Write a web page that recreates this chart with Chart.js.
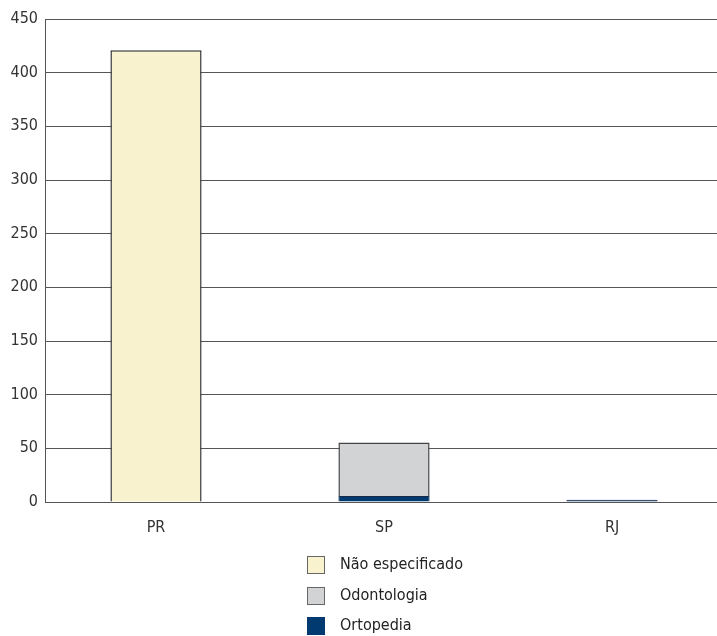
<!DOCTYPE html>
<html>
<head>
<meta charset="utf-8">
<script src="https://cdn.jsdelivr.net/npm/chart.js@4"></script>
<style>
  html, body { margin: 0; padding: 0; background: #fff; overflow: hidden; }
  #wrap { position: relative; width: 717px; height: 636px; overflow: hidden; }
  #cv { position: absolute; left: 0; top: 0; }
  #legend { position: absolute; left: 307px; top: 556px; font-family: "DejaVu Sans Condensed", "DejaVu Sans", sans-serif; font-size: 16px; color: #222; }
  .item { position: relative; height: 30.5px; }
  .box { position: absolute; left: 0; top: 0; width: 16px; height: 16px; border: 1px solid #666; }
  .lbl { position: absolute; left: 33px; top: -2px; white-space: nowrap; }
</style>
</head>
<body>
<div id="wrap">
  <canvas id="cv"></canvas>
  <div id="legend"></div>
</div>
<script>
const categories = ["PR", "SP", "RJ"];
const seriesNames = ["Não especificado", "Odontologia", "Ortopedia"];
const naoEspecificado = [421, null, null];
const odontologia = [null, 50, null];
const ortopedia = [null, 5.5, 2];
const yTicks = [0, 50, 100, 150, 200, 250, 300, 350, 400, 450];

const colors = { "Não especificado": "#f8f2cf", "Odontologia": "#d1d3d5", "Ortopedia": "#003a70" };
const borders = { "Não especificado": "#333333", "Odontologia": "#444444", "Ortopedia": "#1a2a44" };

const cv = document.getElementById('cv');
const W = 740, H = 636;
cv.width = W; cv.height = H;
cv.style.width = W + 'px'; cv.style.height = H + 'px';

const font = { family: '"DejaVu Sans Condensed", "DejaVu Sans", sans-serif', size: 16 };

const shiftX = {
  id: 'shiftX',
  afterLayout(chart) {
    const x = chart.scales.x;
    x.left = 42;
    x.width = x.right - x.left;
    x.configure();
  }
};

new Chart(cv, {
  type: 'bar',
  data: {
    labels: categories,
    datasets: [
      { label: "Ortopedia", data: ortopedia, backgroundColor: colors["Ortopedia"], borderColor: borders["Ortopedia"], borderWidth: 0.8 },
      { label: "Odontologia", data: odontologia, backgroundColor: colors["Odontologia"], borderColor: borders["Odontologia"], borderWidth: 1.5 },
      { label: "Não especificado", data: naoEspecificado, backgroundColor: colors["Não especificado"], borderColor: borders["Não especificado"], borderWidth: 1.5 }
    ]
  },
  plugins: [shiftX],
  options: {
    responsive: false,
    animation: false,
    devicePixelRatio: 1,
    layout: { padding: { top: 19, right: 14, left: 0, bottom: 0 } },
    datasets: { bar: { barPercentage: 0.4, categoryPercentage: 1.0 } },
    plugins: { legend: { display: false }, tooltip: { enabled: false } },
    scales: {
      x: {
        stacked: true,
        grid: { display: false },
        border: { display: false },
        ticks: { color: '#333', font: font, padding: 8 },
        afterFit: (s) => { s.height = 134; }
      },
      y: {
        stacked: true,
        min: 0, max: 450,
        afterBuildTicks: (s) => { s.ticks = yTicks.map(v => ({ value: v })); },
        grid: { color: '#555', lineWidth: 1, drawTicks: false },
        border: { display: true, color: '#555', width: 1 },
        ticks: { color: '#333', font: font, padding: 7 },
        afterFit: (s) => { s.width = 45; }
      }
    }
  }
});

const legend = document.getElementById('legend');
seriesNames.forEach(name => {
  const it = document.createElement('div'); it.className = 'item';
  const b = document.createElement('div'); b.className = 'box';
  b.style.background = colors[name];
  if (name === "Ortopedia") b.style.borderColor = colors[name];
  const l = document.createElement('div'); l.className = 'lbl'; l.textContent = name;
  it.appendChild(b); it.appendChild(l); legend.appendChild(it);
});
</script>
</body>
</html>
